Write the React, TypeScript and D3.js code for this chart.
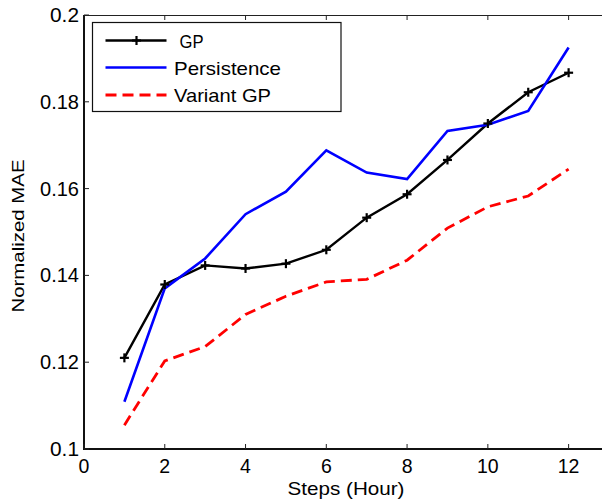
import React from "react";
import * as d3 from "d3";

// Forecast horizon (hours) and normalized MAE per method
const steps = [1, 2, 3, 4, 5, 6, 7, 8, 9, 10, 11, 12];
const gpValues = [0.121, 0.1379, 0.1423, 0.1416, 0.1427, 0.1459, 0.1533, 0.1587, 0.1666, 0.175, 0.1822, 0.1867];
const persistenceValues = [0.1109, 0.137, 0.1439, 0.1541, 0.1593, 0.1688, 0.1637, 0.1622, 0.1733, 0.1747, 0.1779, 0.1925];
const variantGpValues = [0.1055, 0.1203, 0.1236, 0.131, 0.1352, 0.1385, 0.1391, 0.1435, 0.1509, 0.1558, 0.1583, 0.1645];

const seriesNames = ["GP", "Persistence", "Variant GP"];
const xTicks = [0, 2, 4, 6, 8, 10, 12];
const yTicks = [0.1, 0.12, 0.14, 0.16, 0.18, 0.2];
const yTickLabels = ["0.1", "0.12", "0.14", "0.16", "0.18", "0.2"];

const W = 602;
const H = 502;
const FONT = "'Liberation Sans', Arial, Helvetica, sans-serif";

export default function App() {
  const x = d3.scaleLinear().domain([0, 13]).range([84, 609]);
  const y = d3.scaleLinear().domain([0.1, 0.2]).range([449, 15]);

  const line = d3
    .line<number>()
    .x((_, i) => x(steps[i]))
    .y((d) => y(d));

  const series = [
    { name: seriesNames[0], values: gpValues, color: "#000000", width: 2.4, dash: undefined as string | undefined, marker: true },
    { name: seriesNames[1], values: persistenceValues, color: "#0000ff", width: 2.6, dash: undefined, marker: false },
    { name: seriesNames[2], values: variantGpValues, color: "#ff0000", width: 2.8, dash: "11,6", marker: false },
  ];

  const [x0, x1] = x.range();
  const [yb, yt] = y.range();
  const tickLen = 5;

  const plus = (cx: number, cy: number, key: string) => (
    <g key={key} stroke="#000" strokeWidth={2.2}>
      <line x1={cx - 4.5} x2={cx + 4.5} y1={cy} y2={cy} />
      <line x1={cx} x2={cx} y1={cy - 4.5} y2={cy + 4.5} />
    </g>
  );

  return (
    <svg
      width={W}
      height={H}
      style={{ position: "absolute", left: 0, top: 0, background: "#fff" }}
      fontFamily={FONT}
    >
      <rect x={0} y={0} width={W} height={H} fill="#fff" />

      {/* axes box */}
      <line x1={x0} x2={x1} y1={yt + 0.5} y2={yt + 0.5} stroke="#222" strokeWidth={1.2} />
      <line x1={x0} x2={x1} y1={yb} y2={yb} stroke="#111" strokeWidth={2} />
      <line x1={x0} x2={x0} y1={yt} y2={yb + 1} stroke="#111" strokeWidth={2} />
      <line x1={x1} x2={x1} y1={yt} y2={yb} stroke="#111" strokeWidth={2} />

      {/* x ticks */}
      {xTicks.map((t) => (
        <g key={"xt" + t}>
          <line x1={x(t)} x2={x(t)} y1={yb} y2={yb - tickLen} stroke="#222" strokeWidth={1} />
          <line x1={x(t)} x2={x(t)} y1={yt} y2={yt + tickLen} stroke="#222" strokeWidth={1} />
          <text x={x(t)} y={yb + 24} fontSize={19.5} textAnchor="middle" fill="#000">
            {t}
          </text>
        </g>
      ))}

      {/* y ticks */}
      {yTicks.map((t, i) => (
        <g key={"yt" + t}>
          <line x1={x0} x2={x0 + tickLen} y1={y(t)} y2={y(t)} stroke="#222" strokeWidth={1} />
          <line x1={x1} x2={x1 - tickLen} y1={y(t)} y2={y(t)} stroke="#222" strokeWidth={1} />
          <text
            x={x0 - 5}
            y={y(t) + 7}
            fontSize={19.5}
            textAnchor="end"
            fill="#000"
            textLength={yTickLabels[i].length === 4 ? 39 : 29}
            lengthAdjust="spacingAndGlyphs"
          >
            {yTickLabels[i]}
          </text>
        </g>
      ))}

      {/* axis titles */}
      <text
        x={346}
        y={495}
        fontSize={19}
        textAnchor="middle"
        textLength={117}
        lengthAdjust="spacingAndGlyphs"
        fill="#000"
      >
        Steps (Hour)
      </text>
      <text
        transform="translate(24,236) rotate(-90)"
        fontSize={16.5}
        textAnchor="middle"
        textLength={153}
        lengthAdjust="spacingAndGlyphs"
        fill="#000"
      >
        Normalized MAE
      </text>

      {/* series */}
      {series.map((s) => (
        <path
          key={s.name}
          d={line(s.values) ?? ""}
          fill="none"
          stroke={s.color}
          strokeWidth={s.width}
          strokeDasharray={s.dash}
          strokeLinejoin="miter"
        />
      ))}
      {gpValues.map((v, i) => plus(x(steps[i]), y(v), "m" + i))}

      {/* legend */}
      <rect x={92.5} y={22.5} width={248.5} height={89} fill="#fff" stroke="#111" strokeWidth={1.2} />
      {series.map((s, i) => {
        const ly = [40.5, 67.5, 95][i];
        return (
          <g key={"lg" + s.name}>
            <line x1={105.5} x2={166.5} y1={ly} y2={ly} stroke={s.color} strokeWidth={s.width} strokeDasharray={s.dash} />
            {s.marker && plus(136.5, ly, "lm")}
            <text
              x={i === 0 ? 179.5 : 174}
              y={ly + 7}
              fontSize={18.5}
              fill="#000"
              textLength={[24, 107, 97][i]}
              lengthAdjust="spacingAndGlyphs"
            >
              {s.name}
            </text>
          </g>
        );
      })}
    </svg>
  );
}
